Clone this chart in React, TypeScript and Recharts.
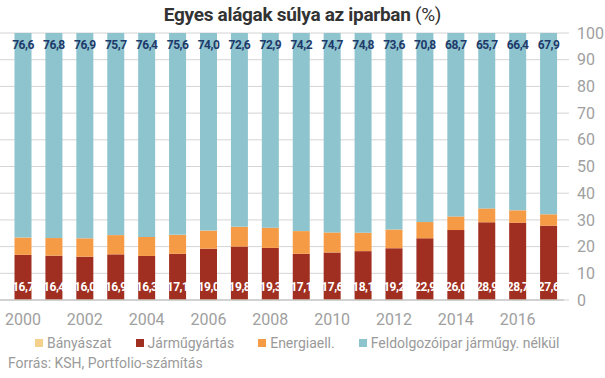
import { BarChart, Bar, XAxis, YAxis, CartesianGrid, LabelList } from "recharts";

const years = ["2000", "2001", "2002", "2003", "2004", "2005", "2006", "2007", "2008", "2009", "2010", "2011", "2012", "2013", "2014", "2015", "2016", "2017"];
const banyaszat = [0.2, 0.2, 0.2, 0.2, 0.2, 0.2, 0.2, 0.2, 0.2, 0.2, 0.2, 0.2, 0.2, 0.2, 0.2, 0.2, 0.2, 0.2];
const jarmugyartas = [16.7, 16.4, 16.0, 16.9, 16.3, 17.1, 19.0, 19.8, 19.3, 17.1, 17.6, 18.1, 19.2, 22.9, 26.0, 28.9, 28.7, 27.6];
const energiaell = [6.5, 6.6, 6.9, 7.2, 7.1, 7.1, 6.8, 7.4, 7.6, 8.5, 7.5, 6.9, 7.0, 6.1, 5.1, 5.2, 4.7, 4.3];
const feldolgozo = [76.6, 76.8, 76.9, 75.7, 76.4, 75.6, 74.0, 72.6, 72.9, 74.2, 74.7, 74.8, 73.6, 70.8, 68.7, 65.7, 66.4, 67.9];
const yTicks = [0, 10, 20, 30, 40, 50, 60, 70, 80, 90, 100];

const data = years.map((year, i) => ({
  year,
  banyaszat: banyaszat[i],
  jarmu: jarmugyartas[i],
  energia: energiaell[i],
  feldolgozo: feldolgozo[i],
}));

const series = [
  { key: "banyaszat", name: "Bányászat", color: "#F6D18C" },
  { key: "jarmu", name: "Járműgyártás", color: "#A02F21" },
  { key: "energia", name: "Energiaell.", color: "#F59B45" },
  { key: "feldolgozo", name: "Feldolgozóipar járműgy. nélkül", color: "#8EC4CE" },
];

const fmt = (v: any) => Number(v).toFixed(1).replace(".", ",");
const FONT = "Roboto, 'Noto Sans', sans-serif";

function LegendRow() {
  return (
    <div style={{ display: "flex", paddingLeft: 35, fontSize: 14, color: "#9a9a9a" }}>
      {series.map((s) => (
        <div key={s.key} style={{ display: "flex", alignItems: "center", marginRight: 24 }}>
          <span style={{ width: 8, height: 8, background: s.color, marginRight: 4, display: "inline-block" }} />
          {s.name}
        </div>
      ))}
    </div>
  );
}

export default function App() {
  return (
    <div style={{ position: "absolute", left: 0, top: 0, width: 605, height: 378, background: "#fff", fontFamily: FONT }}>
      <div style={{ position: "absolute", top: 3, left: 0, width: 605, textAlign: "center", fontSize: 19, color: "#333", letterSpacing: -0.3 }}>
        <span style={{ fontWeight: 700 }}>Egyes alágak súlya az iparban</span> (%)
      </div>
      <div style={{ position: "absolute", top: 0, left: 0 }}>
        <BarChart width={605} height={378} data={data} margin={{ top: 33, right: 0, bottom: 48, left: 0 }} barCategoryGap={7}>
          <CartesianGrid vertical={false} stroke="#d4d4d4" />
          <XAxis
            dataKey="year"
            interval={1}
            tickLine={false}
            axisLine={{ stroke: "#bbb" }}
            padding={{ left: 7.5, right: 0 }}
            tick={{ fill: "#a0a0a0", fontSize: 16 }}
            tickMargin={8}
            height={30}
          />
          <YAxis
            orientation="right"
            domain={[0, 100]}
            ticks={yTicks}
            axisLine={false}
            tickLine={{ stroke: "#d4d4d4" }}
            tickSize={5}
            tickMargin={8}
            width={41}
            tick={{ fill: "#a0a0a0", fontSize: 16, textAnchor: "start" }}
          />
          {series.map((s) => (
            <Bar key={s.key} dataKey={s.key} name={s.name} stackId="a" fill={s.color} isAnimationActive={false}>
              {s.key === "jarmu" && (
                <LabelList dataKey="jarmu" position="insideBottom" offset={8} formatter={fmt} fill="#fff" fontSize={12} fontWeight={700} style={{ letterSpacing: -0.5 }} />
              )}
              {s.key === "feldolgozo" && (
                <LabelList dataKey="feldolgozo" position="insideTop" offset={7} formatter={fmt} fill="#1E3A6A" fontSize={12} fontWeight={700} style={{ letterSpacing: -0.5 }} />
              )}
            </Bar>
          ))}
        </BarChart>
      </div>
      <div style={{ position: "absolute", top: 335, left: 0, width: 605 }}>
        <LegendRow />
      </div>
      <div style={{ position: "absolute", top: 355, left: 8, fontSize: 14, color: "#9a9a9a" }}>Forrás: KSH, Portfolio-számítás</div>
    </div>
  );
}
